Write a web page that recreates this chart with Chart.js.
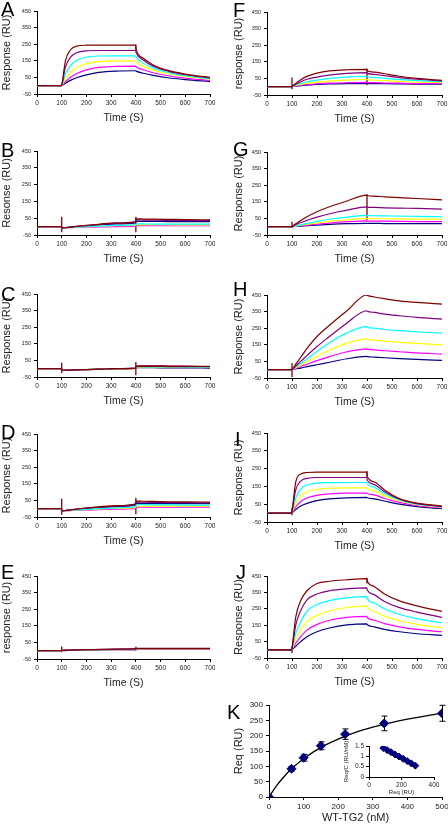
<!DOCTYPE html>
<html>
<head>
<meta charset="utf-8">
<script src="https://cdn.jsdelivr.net/npm/chart.js@4.4.1/dist/chart.umd.min.js"></script>
<style>
  body { margin: 0; background: #fff; width: 448px; height: 824px; position: relative; overflow: hidden; font-family: "Liberation Sans", Arial, sans-serif; }
  canvas { position: absolute; }
  .letter { position: absolute; font-size: 20px; line-height: 20px; color: #000; }
</style>
</head>
<body>
<script>
// Sampling times (s) shared by every sensorgram
const timeS = [0, 99, 101, 115, 135, 160, 200, 250, 320, 399, 401, 430, 470, 530, 600, 700];

// Each panel: rows are dark red, purple, cyan, yellow, magenta, navy
const panelA = [
    [0, 0, 10, 150, 215, 238, 244, 245, 245, 245, 220, 165, 125, 92, 70, 50],
    [0, 0, 8, 110, 170, 198, 210, 212, 212, 212, 200, 155, 118, 88, 66, 46],
    [0, 0, 5, 70, 120, 152, 172, 179, 180, 180, 172, 136, 106, 80, 60, 42],
    [0, 0, 3, 40, 78, 108, 132, 145, 150, 150, 145, 118, 94, 72, 55, 38],
    [0, 0, 2, 25, 50, 72, 95, 110, 117, 118, 114, 96, 78, 60, 46, 32],
    [0, 0, 1, 15, 32, 48, 65, 80, 88, 90, 88, 75, 62, 48, 37, 25]
];
const panelB = [
    [0, 0, -8, -6, -3, 2, 8, 14, 22, 30, 46, 45, 44, 43, 42, 40],
    [0, 0, -8, -6, -3, 1, 6, 12, 19, 26, 40, 39, 38, 37, 36, 35],
    [0, 0, -8, -7, -5, -3, 0, 3, 7, 12, 16, 16, 15, 15, 15, 15],
    [0, 0, -8, -7, -5, -3, -1, 2, 5, 9, 12, 12, 11, 11, 10, 10],
    [0, 0, -8, -7, -6, -5, -4, -2, 0, 2, 5, 5, 5, 5, 5, 5],
    [0, 0, -8, -6, -4, 0, 5, 10, 16, 22, 32, 31, 31, 30, 30, 30]
];
const panelC = [
    [0, 0, -10, -9, -8, -7, -5, -3, 0, 4, 16, 17, 17, 16, 15, 14],
    [0, 0, -10, -9, -8, -7, -5, -3, 0, 3, 14, 14, 14, 13, 12, 12],
    [0, 0, -10, -9, -8, -7, -5, -3, 0, 3, 12, 12, 11, 11, 10, 9],
    [0, 0, -10, -9, -8, -7, -5, -3, -1, 2, 10, 10, 10, 9, 9, 8],
    [0, 0, -10, -9, -8, -7, -5, -3, 0, 3, 15, 16, 16, 15, 14, 13],
    [0, 0, -10, -9, -8, -7, -6, -4, -1, 2, 6, 6, 6, 5, 5, 4]
];
const panelD = [
    [0, 0, -14, -11, -7, -2, 4, 11, 19, 30, 46, 45, 44, 42, 41, 40],
    [0, 0, -14, -11, -7, -3, 3, 9, 16, 26, 40, 39, 38, 37, 36, 35],
    [0, 0, -14, -12, -10, -7, -4, 0, 5, 12, 24, 24, 23, 23, 22, 22],
    [0, 0, -14, -12, -10, -8, -5, -2, 2, 8, 16, 16, 15, 15, 15, 15],
    [0, 0, -14, -13, -12, -10, -8, -6, -3, 2, 10, 10, 10, 10, 10, 10],
    [0, 0, -14, -11, -8, -4, 1, 7, 13, 22, 32, 31, 31, 30, 30, 30]
];
const panelE = [
    [0, 0, 2, 3, 4, 5, 6, 8, 10, 12, 14, 14, 14, 14, 14, 14],
    [0, 0, 2, 3, 4, 5, 6, 7, 9, 11, 13, 13, 13, 13, 13, 13],
    [0, 0, 1, 2, 3, 4, 5, 6, 8, 10, 12, 12, 12, 12, 12, 12],
    [0, 0, 1, 2, 3, 4, 5, 6, 7, 9, 11, 11, 11, 11, 11, 11],
    [0, 0, 1, 2, 3, 3, 4, 5, 6, 8, 10, 10, 10, 10, 10, 10],
    [0, 0, 1, 1, 2, 3, 4, 5, 6, 7, 9, 9, 9, 9, 9, 9]
];
const panelF = [
    [0, 0, 3, 20, 42, 62, 82, 95, 102, 104, 96, 88, 78, 63, 50, 38],
    [0, 0, 2, 14, 30, 45, 58, 70, 80, 85, 80, 74, 66, 55, 45, 35],
    [0, 0, 2, 10, 20, 30, 40, 50, 58, 63, 60, 56, 50, 43, 36, 30],
    [0, 0, 1, 7, 14, 20, 27, 34, 40, 45, 42, 39, 36, 32, 28, 25],
    [0, 0, 1, 4, 9, 13, 17, 21, 24, 26, 25, 24, 22, 21, 19, 18],
    [0, 0, 1, 3, 7, 10, 14, 17, 19, 20, 19, 19, 18, 17, 16, 15]
];
const panelG = [
    [0, 0, 2, 18, 38, 60, 90, 120, 155, 190, 188, 184, 180, 175, 170, 162],
    [0, 0, 1, 12, 25, 38, 58, 78, 100, 120, 118, 116, 114, 112, 110, 106],
    [0, 0, 1, 6, 13, 20, 32, 45, 58, 68, 67, 66, 65, 64, 62, 60],
    [0, 0, 1, 4, 9, 14, 22, 32, 42, 50, 49, 48, 48, 47, 46, 45],
    [0, 0, 0, 3, 6, 10, 16, 22, 30, 35, 34, 34, 33, 32, 31, 30],
    [0, 0, 0, 2, 4, 6, 10, 14, 18, 20, 20, 20, 19, 19, 18, 18]
];
const panelH = [
    [0, 0, 3, 33, 75, 128, 200, 268, 355, 450, 448, 438, 428, 415, 405, 395],
    [0, 0, 2, 22, 50, 85, 140, 200, 282, 355, 352, 345, 335, 325, 315, 305],
    [0, 0, 2, 17, 38, 65, 110, 162, 222, 260, 256, 250, 242, 235, 228, 220],
    [0, 0, 1, 12, 28, 48, 80, 117, 160, 186, 183, 178, 172, 165, 158, 150],
    [0, 0, 1, 8, 19, 33, 55, 79, 108, 126, 124, 120, 114, 108, 101, 94],
    [0, 0, 1, 5, 10, 18, 30, 45, 66, 80, 79, 76, 72, 67, 62, 56]
];
const panelI = [
    [0, 0, 20, 175, 220, 228, 230, 230, 230, 230, 205, 175, 130, 82, 56, 40],
    [0, 0, 15, 130, 180, 195, 200, 200, 200, 200, 185, 160, 120, 78, 53, 38],
    [0, 0, 10, 85, 135, 158, 168, 171, 172, 172, 165, 145, 110, 74, 50, 36],
    [0, 0, 6, 55, 95, 120, 134, 140, 142, 142, 138, 125, 98, 68, 47, 33],
    [0, 0, 4, 35, 65, 85, 100, 108, 112, 113, 110, 102, 82, 60, 42, 29],
    [0, 0, 2, 20, 40, 55, 70, 80, 86, 88, 86, 80, 68, 50, 36, 25]
];
const panelJ = [
    [0, 0, 20, 200, 300, 360, 404, 418, 427, 434, 418, 385, 340, 298, 268, 234],
    [0, 0, 15, 150, 240, 305, 340, 360, 372, 378, 365, 335, 295, 257, 230, 198],
    [0, 0, 10, 100, 170, 235, 275, 300, 317, 324, 312, 285, 250, 215, 190, 164],
    [0, 0, 6, 65, 120, 172, 210, 238, 258, 268, 258, 235, 205, 177, 155, 134],
    [0, 0, 4, 40, 80, 120, 155, 180, 198, 204, 197, 180, 160, 140, 124, 110],
    [0, 0, 2, 22, 50, 80, 110, 133, 152, 158, 153, 140, 125, 110, 98, 88]
];

// Injection artefacts: [time, low, high]
const spikeA = [[400, 210, 248]];
const spikeB = [[100, -34, 58], [400, -34, 58]];
const spikeC = [[100, -26, 36], [400, -40, 40]];
const spikeD = [[100, -36, 60], [400, -34, 66]];
const spikeE = [[100, -10, 26], [400, 0, 24]];
const spikeF = [[100, -16, 56], [400, 10, 110]];
const spikeG = [[100, -5, 30], [400, 40, 195]];
const spikeH = [[100, -44, 40]];
const spikeI = [[100, -12, 30], [400, 205, 236]];
const spikeJ = [[100, -20, 20], [400, 405, 440]];

// Panel K: equilibrium binding
const kConc = [0, 65, 100, 150, 220, 333, 500];
const kReq = [0, 92, 128, 167, 205, 240, 273];
const kErr = [0, 8, 11, 13, 17, 24, 26];
const kFitConc = [0, 20, 40, 65, 100, 150, 200, 250, 300, 350, 400, 450, 500];
const kFitReq = [0, 34, 62, 92, 125, 162, 189, 211, 228, 242, 254, 264, 273];

// Panel K inset: Scatchard
const insetReq = [88, 112, 136, 160, 185, 210, 235, 260, 285];
const insetRatio = [1.40, 1.30, 1.20, 1.09, 0.99, 0.88, 0.77, 0.66, 0.55];

const seriesColors = ["#800000", "#800080", "#00ffff", "#ffff00", "#ff00ff", "#000080"];

Chart.defaults.font.family = '"Liberation Sans", Arial, sans-serif';
Chart.defaults.color = "#222";

const panels = [
    { letter: "A", data: panelA, spikes: spikeA, col: 0, top: 11, h: 83, yTitle: "Response (RU)", lx: 1, ly: 2 },
    { letter: "B", data: panelB, spikes: spikeB, col: 0, top: 151, h: 84, yTitle: "Resonse (RU)", lx: 1, ly: 143 },
    { letter: "C", data: panelC, spikes: spikeC, col: 0, top: 294, h: 83, yTitle: "Response (RU)", lx: 1, ly: 287 },
    { letter: "D", data: panelD, spikes: spikeD, col: 0, top: 434, h: 83, yTitle: "Response (RU)", lx: 1, ly: 425 },
    { letter: "E", data: panelE, spikes: spikeE, col: 0, top: 576, h: 83, yTitle: "response (RU)", lx: 1, ly: 565 },
    { letter: "F", data: panelF, spikes: spikeF, col: 1, top: 12, h: 83, yTitle: "response (RU)", lx: 233, ly: 3 },
    { letter: "G", data: panelG, spikes: spikeG, col: 1, top: 152, h: 83, yTitle: "Response (RU)", lx: 233, ly: 142 },
    { letter: "H", data: panelH, spikes: spikeH, col: 1, top: 295, h: 83, yTitle: "Response (RU)", lx: 233, ly: 282 },
    { letter: "I", data: panelI, spikes: spikeI, col: 1, top: 433, h: 89, yTitle: "Response (RU)", lx: 235, ly: 432 },
    { letter: "J", data: panelJ, spikes: spikeJ, col: 1, top: 576, h: 82, yTitle: "Response (RU)", lx: 236, ly: 565 }
];

function addLetter(text, x, capTop) {
    const div = document.createElement("div");
    div.className = "letter";
    div.textContent = text;
    div.style.left = x + "px";
    div.style.top = (capTop - 3) + "px";
    document.body.appendChild(div);
}

function addCanvas(left, top, w, h) {
    const canvas = document.createElement("canvas");
    canvas.width = w;
    canvas.height = h;
    canvas.style.left = left + "px";
    canvas.style.top = top + "px";
    document.body.appendChild(canvas);
    return canvas;
}

// axis helpers
function xAxis(min, max, step, title, opts) {
    return {
        type: "linear", min, max,
        ticks: { stepSize: step, font: { size: opts.tick }, padding: opts.tickPad, maxRotation: 0, autoSkip: false },
        grid: { drawOnChartArea: false, color: "#000", tickLength: 3 },
        border: { color: "#000" },
        title: { display: true, text: title, font: { size: opts.title }, padding: 0 },
        afterFit: (s) => { s.height = opts.size; s.paddingLeft = 0; s.paddingRight = 0; }
    };
}
function yAxis(min, max, step, title, opts) {
    return {
        min, max,
        ticks: { stepSize: step, font: { size: opts.tick }, padding: opts.tickPad, autoSkip: false, callback: (v) => String(v) },
        grid: { drawOnChartArea: false, color: "#000", tickLength: 3 },
        border: { color: "#000" },
        title: { display: true, text: title, font: { size: opts.title }, padding: { top: opts.titlePad, bottom: 0 } },
        afterFit: (s) => { s.width = opts.size; s.paddingTop = 0; s.paddingBottom = 0; }
    };
}

// Sensorgrams
panels.forEach((p) => {
    const padTop = 6, xH = 30, yW = 37;
    const left = p.col === 0 ? 0 : 230;
    const plotW = p.col === 0 ? 173 : 175;
    const padRight = p.col === 0 ? 12 : 6;
    const canvas = addCanvas(left, p.top - padTop, yW + plotW + padRight, padTop + p.h + xH);

    const datasets = p.data.map((vals, i) => ({
        data: timeS.map((t, j) => ({ x: t, y: vals[j] })),
        borderColor: seriesColors[i],
        borderWidth: 1.2,
        pointRadius: 0,
        cubicInterpolationMode: "monotone"
    }));
    p.spikes.forEach((s) => {
        datasets.push({
            data: [{ x: s[0], y: s[1] }, { x: s[0], y: s[2] }],
            borderColor: seriesColors[0],
            borderWidth: 1.3,
            pointRadius: 0
        });
    });

    new Chart(canvas, {
        type: "line",
        data: { datasets },
        options: {
            responsive: false,
            animation: false,
            layout: { padding: { top: padTop, right: padRight, left: 0, bottom: 0 } },
            plugins: { legend: { display: false }, tooltip: { enabled: false } },
            scales: {
                x: xAxis(0, 700, 100, "Time (S)", { tick: 6.5, tickPad: 2, title: 10.5, size: xH }),
                y: yAxis(-50, 450, 100, p.yTitle, { tick: 5.5, tickPad: 3, title: 11, titlePad: p.col === 0 ? 0 : 2, size: yW })
            }
        }
    });
    addLetter(p.letter, p.lx, p.ly);
});

// Error bars for panel K
const errorBars = {
    id: "errorBars",
    beforeDatasetsDraw(chart) {
        const { ctx, scales: { x, y } } = chart;
        ctx.save();
        ctx.strokeStyle = "#000";
        ctx.lineWidth = 1;
        kConc.forEach((c, i) => {
            if (!kErr[i]) return;
            const px = Math.round(x.getPixelForValue(c)) + 0.5;
            const top = y.getPixelForValue(kReq[i] + kErr[i]);
            const bot = y.getPixelForValue(kReq[i] - kErr[i]);
            ctx.beginPath();
            ctx.moveTo(px, top); ctx.lineTo(px, bot);
            ctx.moveTo(px - 3, top); ctx.lineTo(px + 3, top);
            ctx.moveTo(px - 3, bot); ctx.lineTo(px + 3, bot);
            ctx.stroke();
        });
        ctx.restore();
    }
};

// Panel K
const kCanvas = addCanvas(230, 699, 218, 6 + 92 + 28);
new Chart(kCanvas, {
    type: "scatter",
    data: {
        datasets: [
            {
                data: kConc.map((c, i) => ({ x: c, y: kReq[i] })),
                pointStyle: "rectRot", pointRadius: 4.5,
                backgroundColor: "#000080", borderColor: "#000060", borderWidth: 1
            },
            {
                data: kFitConc.map((c, i) => ({ x: c, y: kFitReq[i] })),
                showLine: true, borderColor: "#000", borderWidth: 1.3, pointRadius: 0,
                cubicInterpolationMode: "monotone"
            }
        ]
    },
    options: {
        responsive: false,
        animation: false,
        layout: { padding: { top: 6, right: 6, left: 0, bottom: 0 } },
        plugins: { legend: { display: false }, tooltip: { enabled: false } },
        scales: {
            x: xAxis(0, 500, 100, "WT-TG2 (nM)", { tick: 8, tickPad: 2, title: 11, size: 28 }),
            y: yAxis(0, 300, 50, "Req (RU)", { tick: 8, tickPad: 3, title: 11, titlePad: 2, size: 39 })
        }
    },
    plugins: [errorBars]
});
addLetter("K", 227, 705);

// Inset
const insetCanvas = addCanvas(340, 740, 102, 6 + 31 + 19);
new Chart(insetCanvas, {
    type: "scatter",
    data: {
        datasets: [{
            data: insetReq.map((r, i) => ({ x: r, y: insetRatio[i] })),
            pointStyle: "rectRot", pointRadius: 3.5,
            backgroundColor: "#000080", borderColor: "#000060", borderWidth: 1
        }]
    },
    options: {
        responsive: false,
        animation: false,
        layout: { padding: { top: 6, right: 8, left: 0, bottom: 0 } },
        plugins: { legend: { display: false }, tooltip: { enabled: false } },
        scales: {
            x: xAxis(0, 400, 200, "Req (RU)", { tick: 6.5, tickPad: 1, title: 6, size: 19 }),
            y: yAxis(0, 1.5, 0.5, "Req/C (RU/nM)", { tick: 6.5, tickPad: 2, title: 6, titlePad: 3, size: 29 })
        }
    }
});
</script>
</body>
</html>
